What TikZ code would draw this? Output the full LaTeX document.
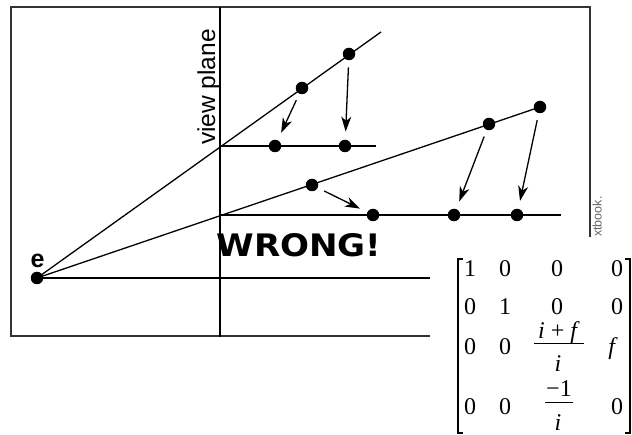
\documentclass[tikz,border=0pt]{standalone}
\usepackage{fontspec}
\setmainfont{Liberation Sans}
\newfontfamily\mtx{Liberation Serif}
\newfontfamily\wrongfont{DejaVu Sans}
\usetikzlibrary{arrows.meta}
\begin{document}
\begin{tikzpicture}[x=1pt,y=-1pt,
  dot/.style={circle,fill=black,inner sep=0pt,minimum size=12.5pt},
  ln/.style={line width=1.3pt},
  arr/.style={line width=1.3pt,-{Stealth[length=15pt,width=10pt,inset=4.5pt]},shorten <=7pt,shorten >=8pt},
  frame/.style={line width=1.8pt,draw=black!80},
  mtxt/.style={font=\mtx\fontsize{24}{28}\selectfont,inner sep=0pt,anchor=base},
  brk/.style={line width=1.3pt}]
\useasboundingbox (0,0) rectangle (632,435);
% frame and view plane
\draw[frame] (11,7) rectangle (590,336);
\coordinate (vtop) at (220,7);
\coordinate (vbot) at (220,337);
\draw[ln] (vtop) -- (vbot);
% dots
\node[dot] (e) at (37,278) {};
\node[dot] (a1) at (302,88) {};
\node[dot] (a2) at (349,54) {};
\node[dot] (b1) at (275,146) {};
\node[dot] (b2) at (345,146) {};
\node[dot] (c1) at (312,185) {};
\node[dot] (c2) at (489,124) {};
\node[dot] (c3) at (540,107) {};
\node[dot] (d1) at (373,215) {};
\node[dot] (d2) at (454,215) {};
\node[dot] (d3) at (517,215) {};
% rays and lines
\coordinate (l1) at (381,32);
\coordinate (l3) at (430,278);
\coordinate (h1s) at (220,146);
\coordinate (h1e) at (376,146);
\coordinate (h2s) at (220,215);
\coordinate (h2e) at (561,215);
\draw[ln] (e.center) -- (l1);
\draw[ln] (e.center) -- (c3.center);
\draw[ln] (e.center) -- (l3);
\draw[ln] (h1s) -- (h1e);
\draw[ln] (h2s) -- (h2e);
% arrows
\draw[arr] (a1) -- (b1);
\draw[arr] (a2) -- (b2);
\draw[arr] (c1) -- (d1);
\draw[arr] (c2) -- (d2);
\draw[arr] (c3) -- (d3);
% labels
\node[rotate=90,anchor=base,font=\fontsize{24.5}{28}\selectfont,inner sep=0pt] (vp) at (215,87) {view plane};
\node[font=\bfseries\fontsize{25}{28}\selectfont,inner sep=0pt,anchor=base] (elab) at (37.5,268) {e};
\node[font=\wrongfont\bfseries\fontsize{31}{36}\selectfont,anchor=base,inner sep=0pt,xscale=1.1] (wrong) at (299,257) {WRONG!};
\node[rotate=90,anchor=base west,font=\fontsize{12.5}{15}\selectfont,text=black!60,inner sep=0pt] (tb) at (601.5,237) {xtbook.};
% matrix
\fill[white] (430,237) rectangle (632,435);
\draw[brk] (463,259) -- (458,259) -- (458,433) -- (463,433);
\draw[brk] (625,259) -- (630,259) -- (630,433) -- (625,433);
\node[mtxt] (m11) at (470,277) {1};
\node[mtxt] (m12) at (505,277) {0};
\node[mtxt] (m13) at (557,277) {0};
\node[mtxt] (m14) at (617,277) {0};
\node[mtxt] (m21) at (470,315) {0};
\node[mtxt] (m22) at (505,315) {1};
\node[mtxt] (m23) at (557,315) {0};
\node[mtxt] (m24) at (617,315) {0};
\node[mtxt] (m31) at (470,355) {0};
\node[mtxt] (m32) at (505,355) {0};
\node[mtxt] (m33n) at (559,339) {\textit{i} + \textit{f}};
\draw[line width=1pt] (534,344) -- (584,344);
\node[mtxt] (m33d) at (558,372) {\textit{i}};
\node[mtxt] (m34) at (613,355) {\textit{f}};
\node[mtxt] (m41) at (470,415) {0};
\node[mtxt] (m42) at (505,415) {0};
\node[mtxt] (m43n) at (559,397) {\textminus1};
\draw[line width=1pt] (545,403) -- (573,403);
\node[mtxt] (m43d) at (558,431) {\textit{i}};
\node[mtxt] (m44) at (617,415) {0};
\end{tikzpicture}
\end{document}
